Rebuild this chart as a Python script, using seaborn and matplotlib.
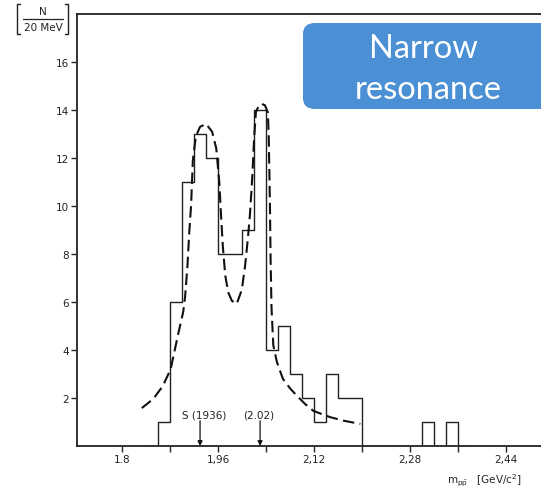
import matplotlib
matplotlib.use("Agg")
import matplotlib.pyplot as plt
from matplotlib.patches import FancyBboxPatch
from matplotlib.lines import Line2D
import numpy as np
import pandas as pd
import seaborn as sns

# ---- data ----
bin_left_edges = [1.84, 1.86, 1.88, 1.90, 1.92, 1.94, 1.96, 1.98, 2.00, 2.02, 2.04,
                  2.06, 2.08, 2.10, 2.12, 2.14, 2.16, 2.18, 2.20, 2.22, 2.24, 2.26,
                  2.28, 2.30, 2.32, 2.34, 2.36]
counts = [0, 1, 6, 11, 13, 12, 8, 8, 9, 14, 4,
          5, 3, 2, 1, 3, 2, 2, 0, 0, 0, 0,
          0, 1, 0, 1, 0]
bin_width = 0.02

fit_mass = [1.833, 1.852, 1.868, 1.881, 1.893, 1.902, 1.905, 1.909, 1.912, 1.915,
            1.918, 1.923, 1.930, 1.940, 1.950, 1.957, 1.962, 1.965, 1.968, 1.972,
            1.977, 1.983, 1.991, 1.9995, 2.005, 2.0095, 2.013, 2.017, 2.020, 2.023,
            2.028, 2.033, 2.038, 2.043, 2.0445, 2.0455, 2.0465, 2.0475, 2.049, 2.052,
            2.058, 2.068, 2.080, 2.091, 2.105, 2.119, 2.147, 2.170, 2.197]
fit_value = [1.58, 1.96, 2.5, 3.2, 4.6, 5.6, 6.2, 7.5, 8.9, 10.0,
             11.9, 12.9, 13.3, 13.42, 13.1, 12.4, 11.0, 9.6, 8.3, 7.1,
             6.4, 6.05, 5.92, 6.5, 7.5, 8.6, 9.6, 11.2, 12.8, 13.9,
             14.2, 14.25, 14.2, 13.9, 12.8, 11.4, 9.9, 7.8, 5.8, 4.2,
             3.5, 2.8, 2.4, 2.1, 1.75, 1.46, 1.2, 1.05, 0.92]

y_ticks = [2, 4, 6, 8, 10, 12, 14, 16]
x_ticks = [1.80, 1.88, 1.96, 2.04, 2.12, 2.20, 2.28, 2.36, 2.44]
x_tick_labels = ["1.8", "", "1,96", "", "2,12", "", "2,28", "", "2,44"]

arrow_mass = [1.930, 2.030]
arrow_labels = ["S (1936)", "(2.02)"]
arrow_label_mass = [1.937, 2.027]

# ---- plotting ----
sns.set_style("ticks")
plt.rcParams["font.family"] = ["DejaVu Sans"]

W, H = 541, 489
INK = "#222222"
fig = plt.figure(figsize=(W / 100, H / 100), dpi=100)
ax = fig.add_axes([77 / W, (H - 447) / H, 1 - 77 / W, (447 - 15) / H])

hist_df = pd.DataFrame({"m": np.array(bin_left_edges) + bin_width / 2, "n": counts})
edges = list(bin_left_edges) + [bin_left_edges[-1] + bin_width]
sns.histplot(data=hist_df, x="m", weights="n", bins=edges, element="step",
             fill=False, color=INK, linewidth=1.0, ax=ax)

fit_df = pd.DataFrame({"m": fit_mass, "v": fit_value})
sns.lineplot(data=fit_df, x="m", y="v", sort=False, color="#111111",
             linewidth=1.5, ax=ax)
ax.lines[-1].set_linestyle((0, (5.5, 2.6)))

ax.set_xlim(1.725, 2.498)
ax.set_ylim(0, 18)
ax.set_xlabel("")
ax.set_ylabel("")
ax.set_yticks(y_ticks)
ax.set_yticklabels([str(t) for t in y_ticks], fontsize=7.5)
ax.set_xticks(x_ticks)
ax.set_xticklabels(x_tick_labels, fontsize=7.5)
ax.tick_params(axis="both", direction="out", length=4, width=1.0, color=INK,
               labelcolor=INK, pad=2)
ax.spines["right"].set_visible(False)
for s in ["left", "bottom", "top"]:
    ax.spines[s].set_linewidth(1.3)
    ax.spines[s].set_color(INK)

for m, lm, lab in zip(arrow_mass, arrow_label_mass, arrow_labels):
    ax.annotate("", xy=(m, 0.0), xytext=(m, 1.05),
                arrowprops=dict(arrowstyle="-|>", color="#111111", lw=0.9,
                                mutation_scale=7, shrinkA=0, shrinkB=0))
    ax.text(lm, 1.33, lab, ha="center", va="center", fontsize=7.5, color=INK)

# y-axis unit label: [ N / 20 MeV ]
def fx(px):
    return px / W

def fy(py):
    return 1 - py / H

fig.text(fx(43), fy(12), "N", ha="center", va="center", fontsize=7.5, color=INK)
fig.text(fx(43), fy(28), "20 MeV", ha="center", va="center", fontsize=7.5, color=INK)
fig.lines.append(Line2D([fx(23), fx(63)], [fy(20), fy(20)], transform=fig.transFigure,
                        color=INK, lw=0.9))
# brackets
fig.lines.append(Line2D([fx(20), fx(17), fx(17), fx(20)],
                        [fy(5), fy(5), fy(35), fy(35)], transform=fig.transFigure,
                        color=INK, lw=1.0))
fig.lines.append(Line2D([fx(65), fx(68), fx(68), fx(65)],
                        [fy(5), fy(5), fy(35), fy(35)], transform=fig.transFigure,
                        color=INK, lw=1.0))

fig.text(fx(447), fy(481), r"$\mathrm{m_{p\bar{p}}}$   [GeV/c$^2$]",
         ha="left", va="center", fontsize=7.5, color=INK)

# blue label box
box = FancyBboxPatch((303 / W, 1 - 110 / H), (W + 20 - 303) / W, 86 / H,
                     boxstyle="round,pad=0,rounding_size=0.022",
                     transform=fig.transFigure, facecolor="#4b90d4",
                     edgecolor="none", zorder=5, clip_on=False)
fig.patches.append(box)
fig.text(fx(423), fy(49), "Narrow", ha="center", va="center", fontsize=23.5,
         color="white", family=["Lato", "DejaVu Sans"], zorder=6)
fig.text(fx(428), fy(90), "resonance", ha="center", va="center", fontsize=23.5,
         color="white", family=["Lato", "DejaVu Sans"], zorder=6)

fig.savefig("out.png", dpi=100)
